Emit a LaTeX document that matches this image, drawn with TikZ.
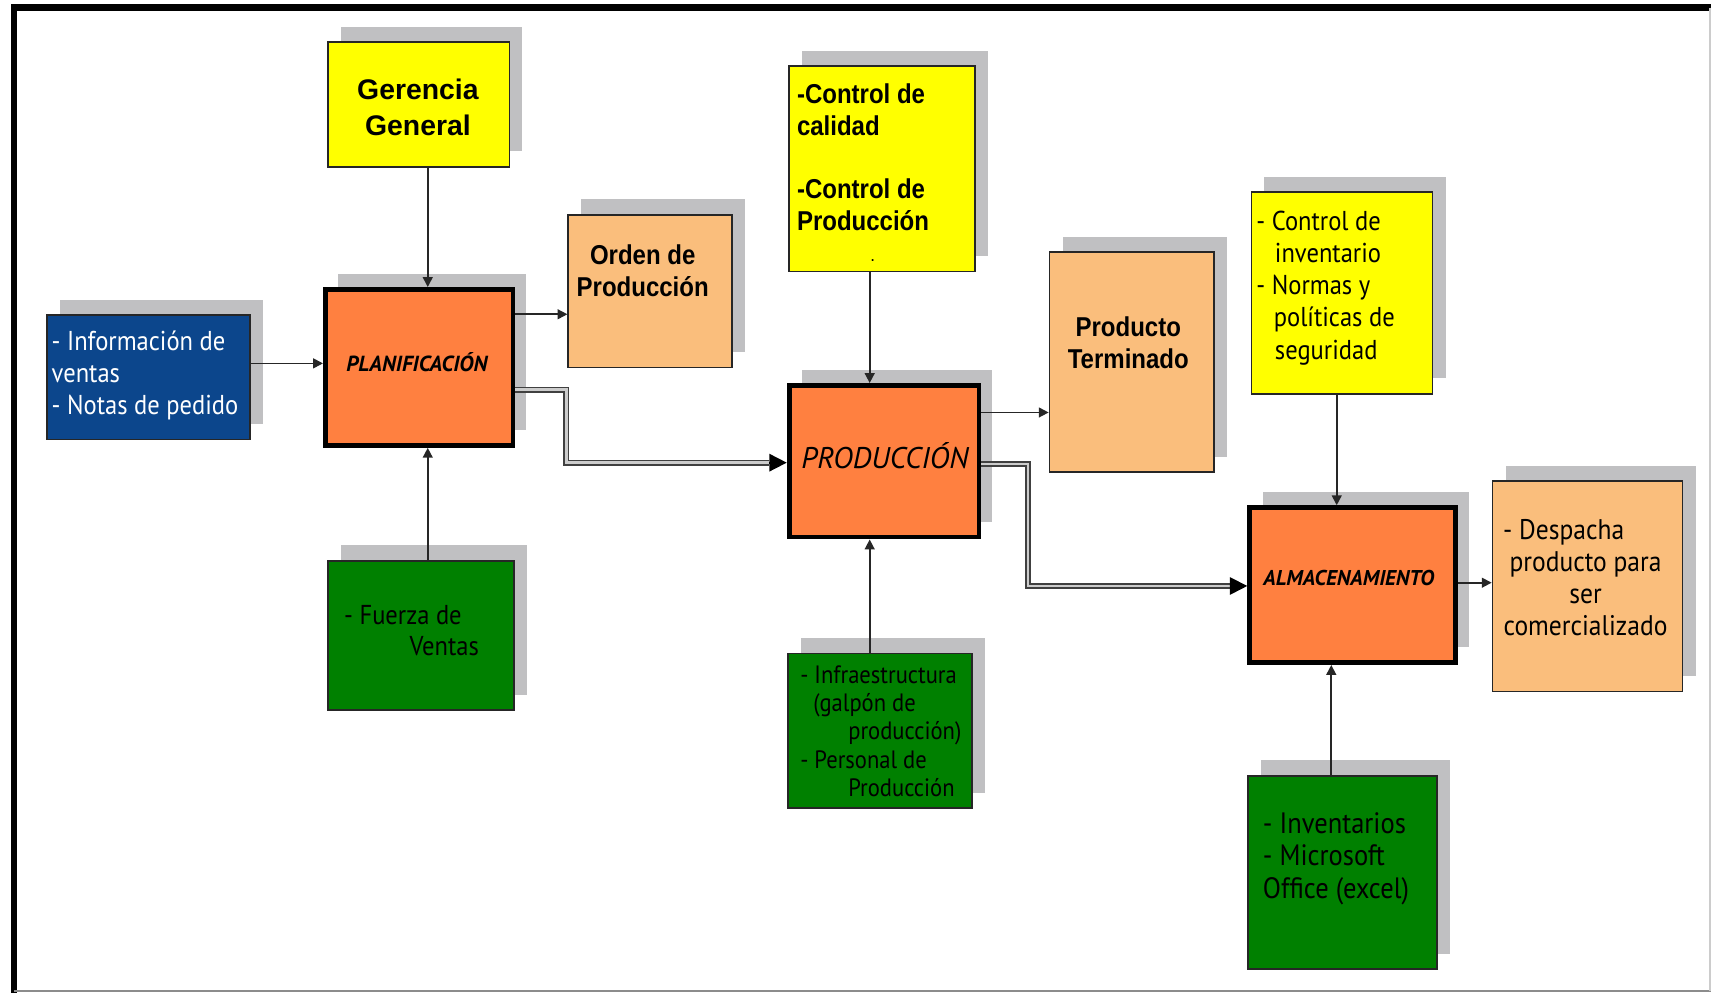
\documentclass[tikz,border=0pt]{standalone}
\usepackage{fontspec}
\usetikzlibrary{shadows,arrows.meta}
\setmainfont{Liberation Sans}
\newfontfamily\ari{Liberation Sans}
\newfontfamily\arin{Liberation Sans}[FakeStretch=0.88]
\newfontfamily\tah{PT Sans}[FakeStretch=0.9]
\newfontfamily\tahw{PT Sans}
\definecolor{amarillo}{RGB}{255,255,0}
\definecolor{naranja}{RGB}{255,128,64}
\definecolor{salmon}{RGB}{250,190,124}
\definecolor{azul}{RGB}{12,70,140}
\definecolor{verde}{RGB}{0,128,0}
\definecolor{sombra}{RGB}{192,192,194}
\tikzset{
  caja/.style={draw=black!85, line width=0.8pt, inner sep=0pt, anchor=north west,
    drop shadow={shadow xshift=6pt, shadow yshift=7pt, fill=sombra, opacity=1}},
  amar/.style={caja, fill=amarillo},
  salm/.style={caja, fill=salmon},
  verd/.style={caja, fill=verde},
  azu/.style={caja, fill=azul},
  proceso/.style={caja, fill=naranja, draw=black, line width=2.2pt},
  flecha/.style={draw=black!85, line width=0.75pt, -{Triangle[length=4.5pt,width=4.5pt]}},
  doble/.style={draw=black!75, line width=0.8pt, double=white!80!black, double distance=1.1pt},
  punta/.style={draw=black, line width=0.8pt, -{Triangle[length=8pt,width=8pt]}},
  % multi-line texts are placed by the baseline of their last line
  txt/.style={inner sep=0pt, anchor=base west, align=left},
  txtc/.style={inner sep=0pt, anchor=base, align=center},
}
\begin{document}
\begin{tikzpicture}[x=0.5pt,y=-0.5pt]
\useasboundingbox (0,0) rectangle (1568,910);
% frame
\draw[line width=3pt, line cap=rect] (13,910) -- (13,7) -- (1568,7);
\draw[black!45, line width=1pt] (13,908) -- (1568,908);
\draw[black!20, line width=0.6pt] (1567,7) -- (1567,908);

% boxes
\node[amar, minimum width=83pt, minimum height=57pt] (ger) at (300,38) {};
\node[proceso, minimum width=86pt, minimum height=71.5pt] (plan) at (296,263) {};
\node[azu, minimum width=93pt, minimum height=57pt] (info) at (42,288) {};
\node[salm, minimum width=75pt, minimum height=70pt] (orden) at (520,196) {};
\node[amar, minimum width=85.5pt, minimum height=94pt] (calid) at (722,60) {};
\node[proceso, minimum width=87pt, minimum height=69.5pt] (prod) at (721,351) {};
\node[salm, minimum width=75.5pt, minimum height=101pt] (term) at (961,230) {};
\node[amar, minimum width=83pt, minimum height=92.5pt] (inv) at (1146,175) {};
\node[proceso, minimum width=94.5pt, minimum height=71pt] (alm) at (1143,463) {};
\node[salm, minimum width=87pt, minimum height=96.5pt] (desp) at (1367,440) {};
\node[verd, minimum width=85pt, minimum height=68.5pt] (fuerza) at (300,513) {};
\node[verd, minimum width=84.5pt, minimum height=71pt] (infra) at (721,598) {};
\node[verd, minimum width=86.5pt, minimum height=88.5pt] (invent) at (1143,710) {};

% texts
\node[txtc, font={\ari\bfseries\fontsize{13pt}{16.5pt}\selectfont}] (tger) at (383,124) {Gerencia\\General};
\node[inner sep=0pt, font={\tahw\bfseries\itshape\fontsize{10pt}{12pt}\selectfont}] (tplan) at (382,332) {PLANIFICACIÓN};
\node[txt, text=white, font={\tah\fontsize{12.5pt}{14.75pt}\selectfont}] (tinfo) at (47,380) {- Información de\\ventas\\- Notas de pedido};
\node[txtc, font={\arin\bfseries\fontsize{12.5pt}{15pt}\selectfont}] (torden) at (589,272) {Orden de\\Producción};
\node[txt, font={\arin\bfseries\fontsize{12.5pt}{14.5pt}\selectfont}] (tcalid) at (730,240) {-Control de\\calidad\\\mbox{}\\-Control de\\Producción\\\hspace*{34pt}{\fontsize{6pt}{6pt}\selectfont.}};
\node[inner sep=0pt, font={\tahw\itshape\fontsize{13.7pt}{16pt}\selectfont}] (tprod) at (811,418) {PRODUCCIÓN};
\node[txtc, font={\arin\bfseries\fontsize{12.5pt}{15pt}\selectfont}] (tterm) at (1034,338) {Producto\\Terminado};
\node[txt, font={\tah\fontsize{12.5pt}{14.75pt}\selectfont}] (tinv) at (1151,329) {- Control de\\\hspace*{8.5pt}inventario\\- Normas y\\\hspace*{8pt}políticas de\\\hspace*{8.5pt}seguridad};
\node[inner sep=0pt, font={\tahw\bfseries\itshape\fontsize{9.8pt}{11pt}\selectfont}] (talm) at (1236,530) {ALMACENAMIENTO};
\node[txtc, font={\tah\fontsize{13pt}{14.6pt}\selectfont}] (tdesp) at (1453,582) {- Despacha\hspace*{20pt}\\producto para\\ser\\comercializado};
\node[txt, font={\tah\fontsize{12.5pt}{14.5pt}\selectfont}] (tfuerza) at (315,601) {- Fuerza de\\\hspace*{30pt}Ventas};
\node[txt, font={\tah\fontsize{11.5pt}{13pt}\selectfont}] (tinfra) at (733,730) {- Infraestructura\\\hspace*{6pt}(galpón de\\\hspace*{22pt}producción)\\- Personal de\\\hspace*{22pt}Producción};
\node[txt, font={\tah\fontsize{13.5pt}{14.75pt}\selectfont}] (tinvent) at (1157,823) {- Inventarios\\- Microsoft\\Office (excel)};

% guide coordinates for the connectors
\coordinate (xa) at (392,0);
\coordinate (xb) at (797,0);
\coordinate (xc) at (1225,0);
\coordinate (xd) at (1220,0);
\coordinate (ya) at (0,333);
\coordinate (yb) at (0,288);
\coordinate (yc) at (0,378);
\coordinate (yd) at (0,534);

% single connectors
\draw[flecha] (ger.south -| xa) -- (plan.north -| xa);
\draw[flecha] (fuerza.north -| xa) -- (plan.south -| xa);
\draw[flecha] (info.east |- ya) -- (plan.west |- ya);
\draw[flecha] (plan.east |- yb) -- (orden.west |- yb);
\draw[flecha] (calid.south -| xb) -- (prod.north -| xb);
\draw[flecha] (infra.north -| xb) -- (prod.south -| xb);
\draw[flecha] (prod.east |- yc) -- (term.west |- yc);
\draw[flecha] (inv.south -| xc) -- (alm.north -| xc);
\draw[flecha] (invent.north -| xd) -- (alm.south -| xd);
\draw[flecha] (alm.east |- yd) -- (desp.west |- yd);

% double connectors with large heads
\coordinate (d1) at (519,357);
\coordinate (d2) at (519,424);
\coordinate (d3) at (705,424);
\draw[doble] (plan.east |- d1) -- (d1) -- (d2) -- (d3);
\draw[punta] (d3) -- (prod.west |- d3);
\coordinate (e1) at (942,425);
\coordinate (e2) at (942,537);
\coordinate (e3) at (1127,537);
\draw[doble] (prod.east |- e1) -- (e1) -- (e2) -- (e3);
\draw[punta] (e3) -- (alm.west |- e3);
\end{tikzpicture}
\end{document}
